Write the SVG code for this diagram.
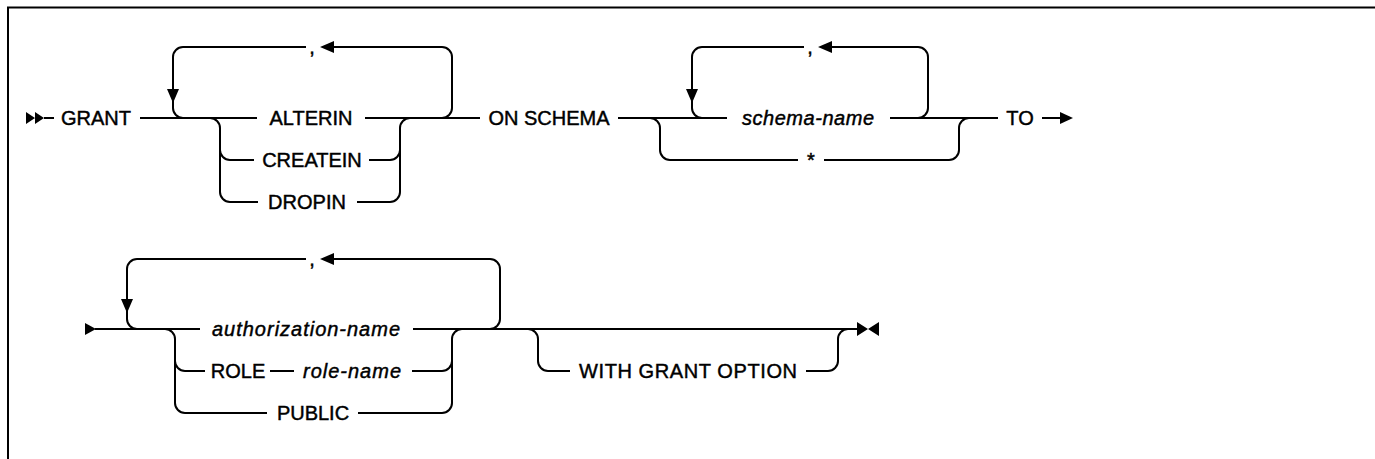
<svg xmlns="http://www.w3.org/2000/svg" width="1375" height="459" viewBox="0 0 1375 459">
<style>
.ln{fill:none;stroke:#000;stroke-width:2}
.ah{fill:#000;stroke:none}
.t{font-family:"Liberation Sans",Arial,sans-serif;font-size:20px;fill:#000;stroke:#000;stroke-width:0.45;text-anchor:middle}
.v{font-style:italic}
</style>
<rect x="0" y="0" width="1375" height="459" fill="#fff"/>
<path class="ln" d="M8,470 V7.5 H1380"/>
<g id="connectors">
  <path class="ln" d="M44,118 H54 M140,118 H257 M365,118 H480 M618,118 H727 M890,118 H998 M1042,118 H1060"/>
  <path class="ln" d="M442,118 A10,10 0 0 0 452,108 V57 A10,10 0 0 0 442,47 H333 M306,47 H183 A10,10 0 0 0 173,57 V108 A10,10 0 0 0 183,118"/>
  <path class="ln" d="M210,118 A10,10 0 0 1 220,128 V192 A10,10 0 0 0 230,202 H258 M220,150 A10,10 0 0 0 230,160 H254"/>
  <path class="ln" d="M357,202 H390 A10,10 0 0 0 400,192 V128 A10,10 0 0 1 410,118 M369,160 H390 A10,10 0 0 0 400,150"/>
  <path class="ln" d="M650,118 A10,10 0 0 1 660,128 V150 A10,10 0 0 0 670,160 H798 M824,160 H949 A10,10 0 0 0 959,150 V128 A10,10 0 0 1 969,118"/>
  <path class="ln" d="M918,118 A10,10 0 0 0 928,108 V57 A10,10 0 0 0 918,47 H832 M804,47 H702 A10,10 0 0 0 692,57 V108 A10,10 0 0 0 702,118"/>
  <path class="ln" d="M95,329 H200 M413,329 H857"/>
  <path class="ln" d="M490,329 A10,10 0 0 0 500,319 V269 A10,10 0 0 0 490,259 H333 M306,259 H137 A10,10 0 0 0 127,269 V319 A10,10 0 0 0 137,329"/>
  <path class="ln" d="M165,329 A10,10 0 0 1 175,339 V403 A10,10 0 0 0 185,413 H267 M175,361 A10,10 0 0 0 185,371 H205 M270,371 H294"/>
  <path class="ln" d="M412,371 H442 A10,10 0 0 0 452,361 M358,413 H442 A10,10 0 0 0 452,403 V339 A10,10 0 0 1 462,329"/>
  <path class="ln" d="M528,329 A10,10 0 0 1 538,339 V361 A10,10 0 0 0 548,371 H570 M806,371 H828 A10,10 0 0 0 838,361 V339 A10,10 0 0 1 848,329"/>
  <path class="ah" d="M26,112 L35,118 L26,124 Z M35,112 L44,118 L35,124 Z"/>
  <path class="ah" d="M1060,112 L1073,118 L1060,124 Z"/>
  <path class="ah" d="M85,323 L96,329 L85,335 Z"/>
  <path class="ah" d="M857,322 L868,329 L857,336 Z M879,322 L868,329 L879,336 Z"/>
  <path class="ah" d="M320,47 L334,41 L334,53 Z M818,47 L832,41 L832,53 Z M320,259 L334,253 L334,265 Z"/>
  <path class="ah" d="M173,103 L167,89 L179,89 Z M692,103 L686,89 L698,89 Z M127,313 L121,299 L133,299 Z"/>
</g>
<g id="n-grant"><text class="t" x="96" y="125">GRANT</text></g>
<g id="n-comma1"><text class="t" x="312" y="54">,</text></g>
<g id="n-alterin"><text class="t" x="311" y="125">ALTERIN</text></g>
<g id="n-createin"><text class="t" x="312" y="167">CREATEIN</text></g>
<g id="n-dropin"><text class="t" x="307" y="209">DROPIN</text></g>
<g id="n-onschema"><text class="t" x="549" y="125">ON SCHEMA</text></g>
<g id="n-comma2"><text class="t" x="810" y="54">,</text></g>
<g id="n-schemaname"><text class="t v" x="808" y="125" textLength="132">schema-name</text></g>
<g id="n-star"><text class="t" x="811" y="167">*</text></g>
<g id="n-to"><text class="t" x="1020" y="125">TO</text></g>
<g id="n-comma3"><text class="t" x="312" y="266">,</text></g>
<g id="n-authname"><text class="t v" x="306" y="336" textLength="188">authorization-name</text></g>
<g id="n-role"><text class="t" x="238" y="378">ROLE</text></g>
<g id="n-rolename"><text class="t v" x="352" y="378" textLength="98">role-name</text></g>
<g id="n-public"><text class="t" x="313" y="420">PUBLIC</text></g>
<g id="n-withgrant"><text class="t" x="688" y="378" textLength="218">WITH GRANT OPTION</text></g>
</svg>
